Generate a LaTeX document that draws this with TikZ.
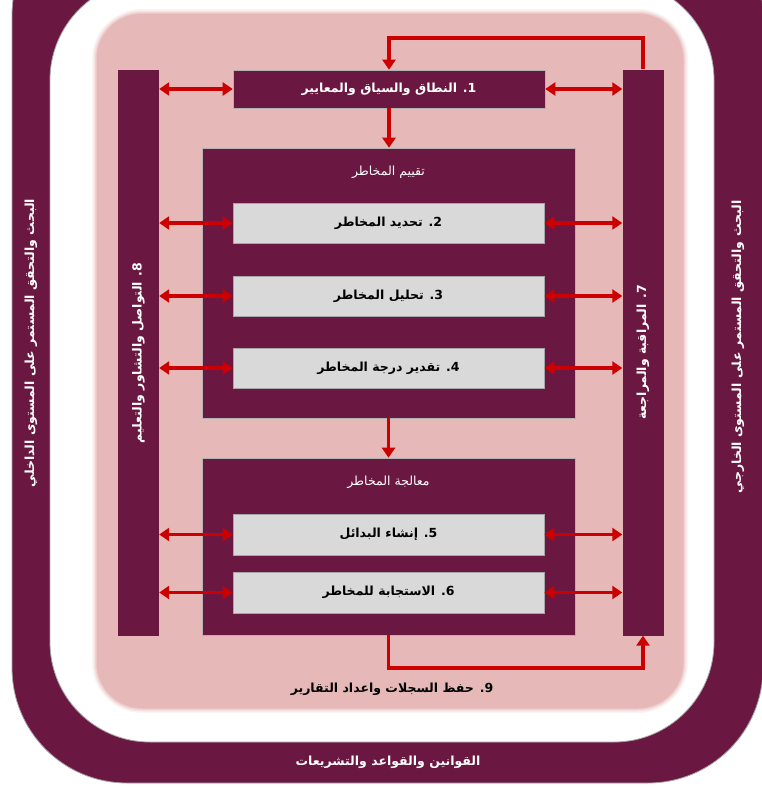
\documentclass[tikz,border=0pt]{standalone}
\usepackage{fontspec}
\usetikzlibrary{arrows.meta}
\newfontfamily\arabicfont[Script=Arabic]{DejaVu Sans}
\TeXXeTstate=1
\newcommand{\artext}[1]{{\arabicfont\beginR #1\endR}}
\definecolor{maroon}{RGB}{106,24,66}
\definecolor{pinkbg}{RGB}{230,184,183}
\definecolor{greybox}{RGB}{217,217,217}
\definecolor{redarr}{RGB}{204,0,0}
\tikzset{
  mbox/.style={fill=maroon, draw=gray!60, line width=0.6pt, inner sep=0pt, text=white, font=\bfseries\fontsize{12.5}{14}\selectfont},
  gbox/.style={fill=greybox, draw=gray!70, line width=0.6pt, inner sep=0pt, text=black, font=\bfseries\fontsize{12.5}{14}\selectfont, minimum width=311pt},
  bar/.style={fill=maroon, inner sep=0pt, minimum width=41pt, minimum height=566pt},
  lbl/.style={inner sep=0pt, text=white, font=\bfseries\fontsize{12.5}{14}\selectfont},
  ttl/.style={inner sep=0pt, text=white, font=\fontsize{12.5}{14}\selectfont},
  dbl/.style={redarr, line width=3.4pt, {Triangle[length=10pt,width=13pt]}-{Triangle[length=10pt,width=13pt]}},
  sgl/.style={redarr, line width=3.4pt, -{Triangle[length=10pt,width=13pt]}},
}
\begin{document}
\begin{tikzpicture}[x=1pt,y=-1pt]
\useasboundingbox (0,0) rectangle (762,787);
% outer frame
\fill[maroon, draw=gray!70, line width=0.8pt, rounded corners=115pt] (12,-100) rectangle (763,783);
\fill[white, draw=gray!70, line width=0.8pt, rounded corners=100pt] (50,-20) rectangle (714,742);
% pink area with soft edge
\foreach \w/\o in {10/0.15,7/0.25,4/0.4,1.5/0.6}{
  \draw[pinkbg, line width=\w pt, opacity=\o, rounded corners=45pt] (97,14) rectangle (683,708);
}
\fill[pinkbg, rounded corners=45pt] (97,14) rectangle (683,708);
% bars
\node[bar] (b8) at (138.5,353) {};
\node[bar] (b7) at (643,352.5) {};
\node[lbl, rotate=90] at (b8) {\artext{8. التواصل والتشاور والتعليم}};
\node[lbl, rotate=90] at (b7) {\artext{7. المراقبة والمراجعة}};
% box 1
\node[mbox, minimum width=312pt, minimum height=38pt] (b1) at (389,89) {\artext{1. النطاق والسياق والمعايير}};
% assessment
\node[mbox, minimum width=373pt, minimum height=270pt] (ass) at (388.5,283) {};
\node[ttl] (asst) at (388.5,172) {\artext{تقييم المخاطر}};
\node[gbox, minimum height=40pt] (b2) at (388.5,223) {\artext{2. تحديد المخاطر}};
\node[gbox, minimum height=40pt] (b3) at (388.5,296) {\artext{3. تحليل المخاطر}};
\node[gbox, minimum height=40pt] (b4) at (388.5,368) {\artext{4. تقدير درجة المخاطر}};
% treatment
\node[mbox, minimum width=373pt, minimum height=177pt] (trt) at (388.5,546.5) {};
\node[ttl] (trtt) at (388.5,482) {\artext{معالجة المخاطر}};
\node[gbox, minimum height=41pt] (b5) at (388.5,534.5) {\artext{5. إنشاء البدائل}};
\node[gbox, minimum height=41pt] (b6) at (388.5,592.5) {\artext{6. الاستجابة للمخاطر}};
% records label
\node[inner sep=0pt, font=\bfseries\fontsize{12.5}{14}\selectfont] (b9) at (392,689) {\artext{9. حفظ السجلات واعداد التقارير}};
% outer labels
\node[lbl] (law) at (388,762) {\artext{القوانين والقواعد والتشريعات}};
\node[lbl, rotate=90] (intl) at (31,343) {\artext{البحث والتحقق المستمر على المستوى الداخلي}};
\node[lbl, rotate=90] (extl) at (738,347) {\artext{البحث والتحقق المستمر على المستوى الخارجي}};
% double arrows
\foreach \b in {b1,b2,b3,b4,b5,b6}{
  \draw[dbl] (b8.east |- \b.west) -- (\b.west);
  \draw[dbl] (\b.east) -- (b7.west |- \b.east);
}
% vertical flow
\draw[sgl] (b1.south) -- (b1.south |- ass.north);
\draw[sgl] (ass.south) -- (trt.north);
% feedback loops
\coordinate (tr) at (643,38);
\draw[sgl] (b7.north) -- (tr) -| (b1.north);
\coordinate (br) at (388.5,668);
\draw[sgl] (trt.south) -- (br) -| (b7.south);
\end{tikzpicture}
\end{document}
